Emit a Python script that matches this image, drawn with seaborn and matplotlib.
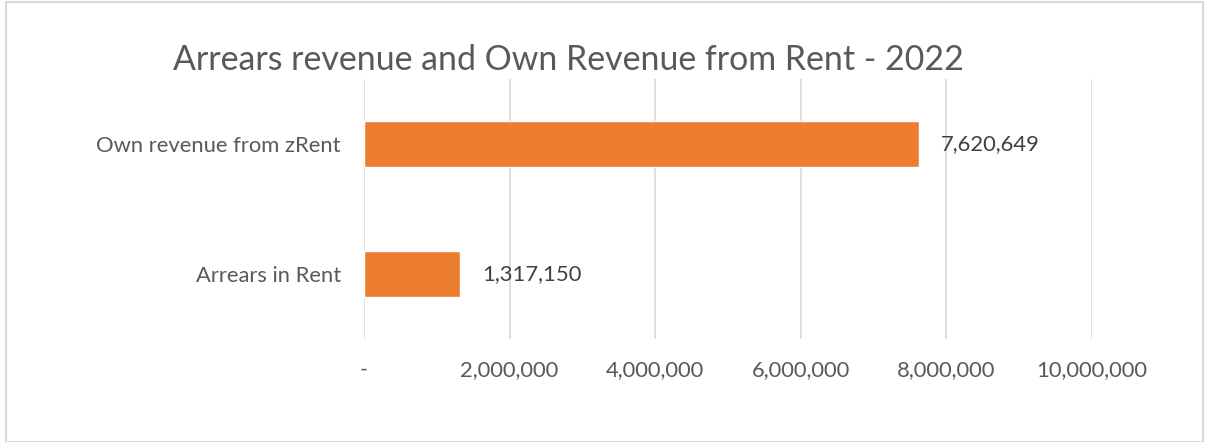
import pandas as pd
import seaborn as sns
import matplotlib.pyplot as plt
from matplotlib.ticker import FuncFormatter
from matplotlib.patches import Rectangle

categorias = ["Own revenue from zRent", "Arrears in Rent"]
valores = [7620649, 1317150]
ticks_x = [0, 2000000, 4000000, 6000000, 8000000, 10000000]

df = pd.DataFrame({"categoria": categorias, "valor": valores})

sns.set_style("white")
plt.rcParams["font.family"] = ["Lato", "DejaVu Sans"]

fig = plt.figure(figsize=(12.05, 4.42), dpi=100)
ax = fig.add_axes([364 / 1205, 1 - 339 / 442, (1092 - 364) / 1205, (339 - 79) / 442])

sns.barplot(data=df, x="valor", y="categoria", color="#ED7D31", width=0.354,
            saturation=1, ax=ax, orient="h")

ax.set_xlim(0, 10000000)
ax.set_xticks(ticks_x)
ax.xaxis.set_major_formatter(FuncFormatter(lambda v, p: "-" if v == 0 else f"{v:,.0f}"))
ax.grid(axis="x", color="#D9D9D9", linewidth=1.2)
ax.set_axisbelow(True)
for s in ax.spines.values():
    s.set_visible(False)
ax.tick_params(axis="both", length=0, labelsize=15.8, labelcolor="#595959")
ax.tick_params(axis="x", pad=15)
ax.tick_params(axis="y", pad=16.5)
ax.set_xlabel("")
ax.set_ylabel("")

for cont in ax.containers:
    ax.bar_label(cont, labels=[f"{v:,.0f}" for v in valores], padding=16,
                 fontsize=15.8, color="#404040")

fig.text(568 / 1205, 1 - 60 / 442, "Arrears revenue and Own Revenue from Rent - 2022",
         ha="center", va="center", fontsize=24.4, color="#595959")

# borde del gráfico
fig.patches.append(Rectangle((6 / 1205, 0.5 / 442), 1197 / 1205, 440 / 442,
                             transform=fig.transFigure, fill=False,
                             edgecolor="#D9D9D9", linewidth=1.5))

plt.savefig("out.png")
